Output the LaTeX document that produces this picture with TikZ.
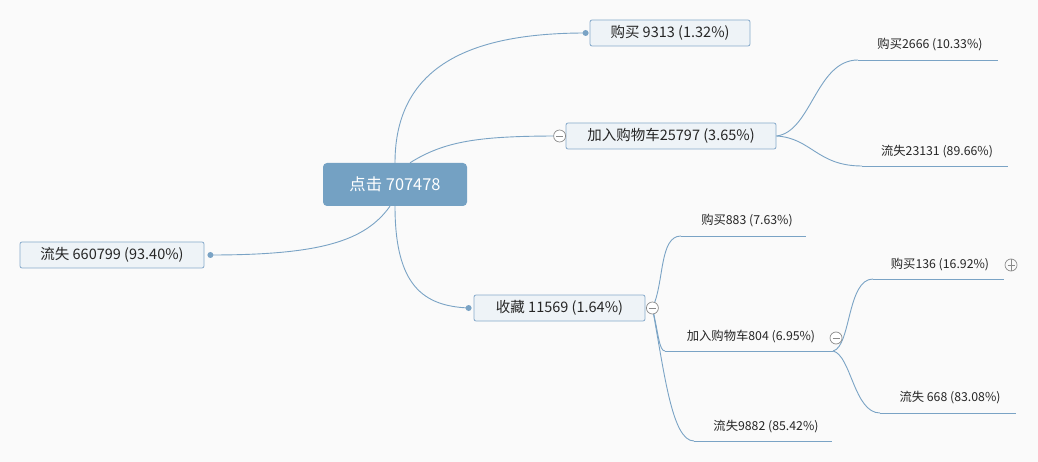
\documentclass[tikz,border=0pt]{standalone}
\usepackage{fontspec}
\setmainfont{Noto Sans CJK SC}
\usetikzlibrary{calc}
\definecolor{bg}{HTML}{FAFAFA}
\definecolor{linkc}{HTML}{7AA3C5}
\definecolor{boxfill}{HTML}{EEF3F7}
\definecolor{boxline}{HTML}{86AACB}
\definecolor{rootfill}{HTML}{74A1C3}
\definecolor{txt}{HTML}{262626}
\definecolor{iconc}{HTML}{8A8A8A}
\tikzset{
  link/.style={draw=linkc, line width=0.9pt},
  rootbox/.style={rectangle, rounded corners=4pt, fill=rootfill, text=white,
    minimum width=144, minimum height=43, inner sep=0pt, font=\fontsize{16.4}{19}\selectfont},
  topicbox/.style={rectangle, rounded corners=2pt, fill=boxfill, draw=boxline, line width=0.8pt,
    text=txt, minimum height=26, inner sep=0pt, font=\fontsize{14.5}{17}\selectfont},
  leaf/.style={text=txt, inner sep=0pt, font=\fontsize{12.3}{15}\selectfont},
  dot/.style={circle, fill=linkc, minimum size=6, inner sep=0pt},
  fold/.style={circle, draw=iconc, fill=white, line width=0.7pt, minimum size=12, inner sep=0pt,
    path picture={\draw[iconc, line width=0.7pt]
      ($(path picture bounding box.west)+(2.5,0)$) -- ($(path picture bounding box.east)+(-2.5,0)$);}},
  unfold/.style={fold, fill=none, path picture={\draw[iconc, line width=0.7pt]
      ($(path picture bounding box.west)+(2.5,0)$) -- ($(path picture bounding box.east)+(-2.5,0)$)
      ($(path picture bounding box.north)+(0,-2.5)$) -- ($(path picture bounding box.south)+(0,2.5)$);}}
}
\begin{document}
\begin{tikzpicture}[x=1pt, y=-1pt]
  \fill[bg] (0,0) rectangle (1038,462);
  \useasboundingbox (0,0) rectangle (1038,462);

  % main topics
  \node[rootbox] (root) at (395,184.5) {点击 707478};
  \node[topicbox, minimum width=160] (buy) at (670,33) {购买 9313 (1.32\%)};
  \node[topicbox, minimum width=210] (cart) at (671,136) {加入购物车25797 (3.65\%)};
  \node[topicbox, minimum width=184] (lose) at (112,255) {流失 660799 (93.40\%)};
  \node[topicbox, minimum width=171] (fav) at (559.5,308) {收藏 11569 (1.64\%)};

  % attachment points
  \node[dot] (dbuy) at ($(buy.west)+(-4,0)$) {};
  \node[dot] (dlose) at ($(lose.east)+(6,0)$) {};
  \node[dot] (dfav) at ($(fav.west)+(-5,0)$) {};
  \coordinate (mcart) at ($(cart.west)+(-6,0)$);
  \coordinate (mfav) at ($(fav.east)+(7,0)$);

  % leaf labels and their underlines
  \node[leaf] (b2666) at (930,45) {购买2666 (10.33\%)};
  \coordinate (b2666a) at (858,60);  \coordinate (b2666b) at (998,60);
  \node[leaf] (l23131) at (937,152) {流失23131 (89.66\%)};
  \coordinate (l23131a) at (862,166); \coordinate (l23131b) at (1008,166);
  \node[leaf] (b883) at (747,221) {购买883 (7.63\%)};
  \coordinate (b883a) at (681,236);  \coordinate (b883b) at (806,236);
  \node[leaf] (c804) at (751,337) {加入购物车804 (6.95\%)};
  \coordinate (c804a) at (665,351);  \coordinate (c804b) at (833,351);
  \node[leaf] (l9882) at (766,427) {流失9882 (85.42\%)};
  \coordinate (l9882a) at (694,441); \coordinate (l9882b) at (832,441);
  \node[leaf] (b136) at (940,265) {购买136 (16.92\%)};
  \coordinate (b136a) at (873,279);  \coordinate (b136b) at (1004,279);
  \node[leaf] (l668) at (950,398) {流失 668 (83.08\%)};
  \coordinate (l668a) at (880,413);  \coordinate (l668b) at (1016,413);

  \foreach \u in {b2666,l23131,b883,c804,l9882,b136,l668}
    \draw[link] (\u a) -- (\u b);

  % connectors from the root
  \draw[link] (root.north) .. controls +(0,-100) and +(-110,0) .. (dbuy.center);
  \draw[link] ($(root.north)+(15,0)$) .. controls +(35,-22) and +(-80,0) .. (mcart);
  \draw[link] (root.south) .. controls +(0,80) and +(-45,-2) .. (dfav.center);
  \draw[link] ($(root.south)+(-5,0)$) .. controls +(-25,35) and +(110,0) .. (dlose.center);

  % second level
  \draw[link] (cart.east) .. controls +(35,-4) and +(-42,0) .. (b2666a);
  \draw[link] (cart.east) .. controls +(35,2) and +(-45,0) .. (l23131a);
  \draw[link] (mfav) .. controls +(12,-25) and +(-22,0) .. (b883a);
  \draw[link] (mfav) .. controls +(6,25) and +(-6,0) .. (c804a);
  \draw[link] (mfav) .. controls +(12,65) and +(-22,0) .. (l9882a);
  \draw[link] (c804b) .. controls +(18,-4) and +(-26,0) .. (b136a);
  \draw[link] (c804b) .. controls +(18,4) and +(-26,0) .. (l668a);

  % fold markers
  \node[fold] (fcart) at (mcart) {};
  \node[fold] (ffav) at (mfav) {};
  \node[fold] (fc804) at (836,338) {};
  \node[unfold] (fb136) at (1011,265) {};
\end{tikzpicture}
\end{document}
